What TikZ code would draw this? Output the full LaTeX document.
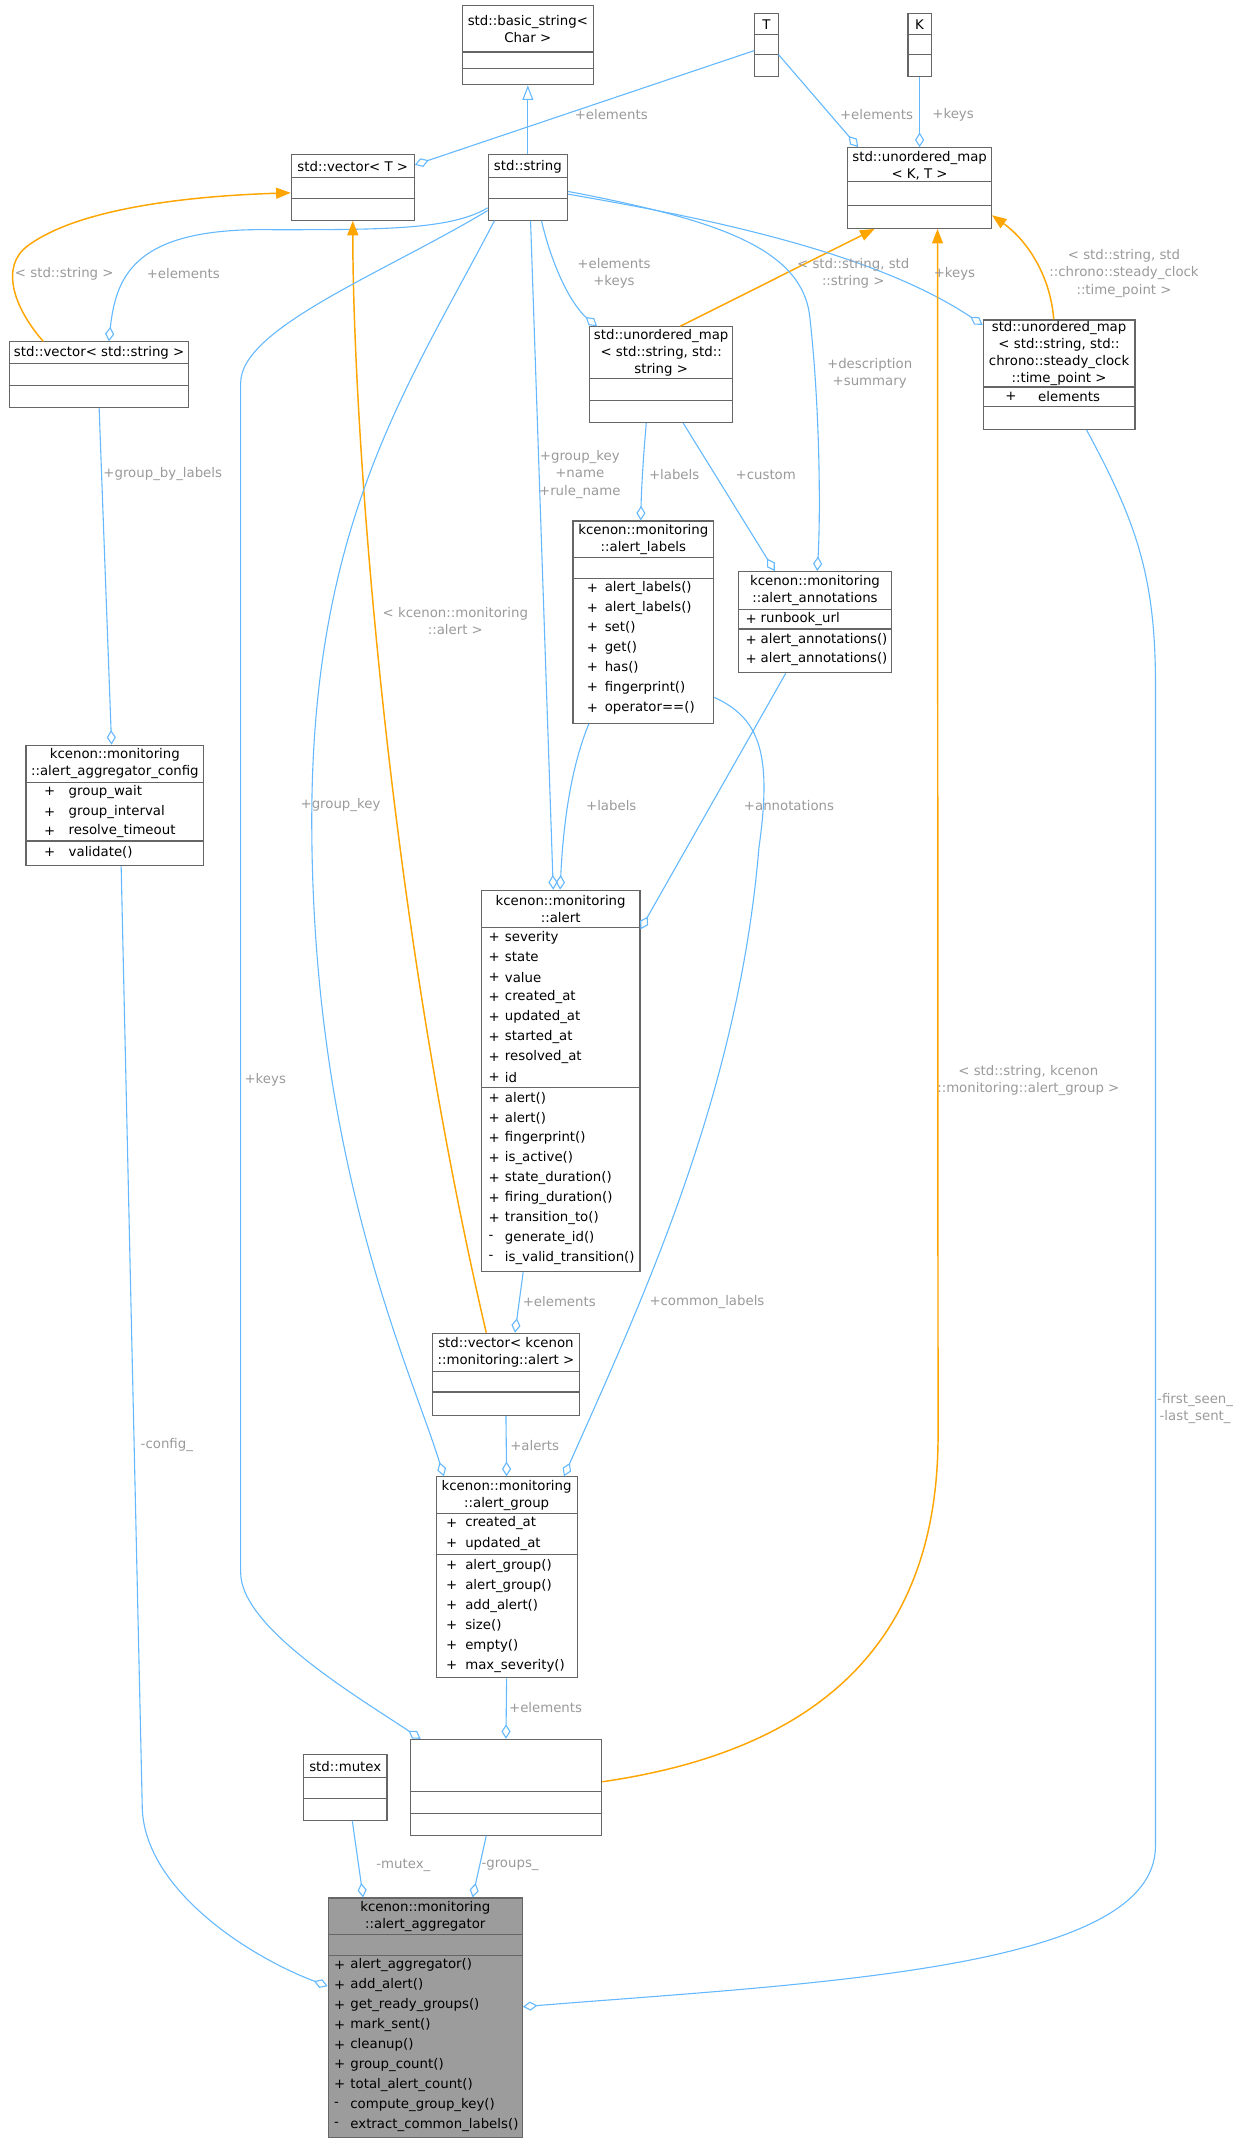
\documentclass[tikz,border=0pt]{standalone}
\usepackage{fontspec}
\setmainfont{DejaVu Sans}
\usetikzlibrary{arrows.meta,fit,calc}
\definecolor{eb}{HTML}{63B8FF}
\definecolor{eo}{HTML}{FFA500}
\definecolor{bd}{HTML}{666666}
\definecolor{lg}{HTML}{9A9A9A}
\newcommand\Bx[6][white]{\node[cbox,fill=#1,fit={(#3,#4)(#5,#6)}] (#2) {};}
\newcommand\Sp[3]{\draw[bd,line width=0.6pt] (#1,#3)--(#2,#3);}
\newcommand\Tl[3]{\node[ttl] at (#1,#2) {#3};}
\newcommand\Mb[5]{\node[mem] at (#1,#3) {#4};\node[mem] at (#2,#3) {#5};}
\newcommand\Lb[3]{\node[lbl] at (#1,#2) {#3};}
\begin{document}
\begin{tikzpicture}[x=0.75pt,y=-0.75pt,
  fnt/.style={font=\fontsize{7.3}{9.4}\selectfont},
  cbox/.style={draw=bd,line width=0.6pt,inner sep=0pt},
  ttl/.style={fnt,align=center,inner sep=0pt},
  mem/.style={fnt,anchor=west,inner sep=0pt},
  lbl/.style={fnt,text=lg,align=center,inner sep=0pt},
  ag/.style={eb,line width=0.6pt,-{Diamond[open,length=8pt,width=5pt]}},
  ih/.style={eb,line width=0.6pt,-{Triangle[open,length=8pt,width=6pt]}},
  tp/.style={eo,line width=0.8pt,-{Triangle[length=8pt,width=6pt]}}]
\useasboundingbox (0,0) rectangle (905,1565);
% boxes
\Bx{bstr}{338}{4}{434}{62}\Sp{338}{434}{38}\Sp{338}{434}{50}\Tl{386}{21}{std::basic\_string<\\Char >}
\Bx{T}{552}{10}{569}{56}\Sp{552}{569}{25}\Sp{552}{569}{40}\Tl{560.5}{18}{T}
\Bx{K}{664}{10}{681}{56}\Sp{664}{681}{25}\Sp{664}{681}{40}\Tl{672.5}{18}{K}
\Bx{vecT}{213}{113}{303}{161}\Sp{213}{303}{130}\Sp{213}{303}{145}\Tl{258}{122}{std::vector< T >}
\Bx{str}{357}{113}{415}{161}\Sp{357}{415}{130}\Sp{357}{415}{145}\Tl{386}{122}{std::string}
\Bx{umKT}{620}{108}{725}{167}\Sp{620}{725}{133}\Sp{620}{725}{150}\Tl{672.5}{121}{std::unordered\_map\\< K, T >}
\Bx{vecS}{7}{250}{138}{298}\Sp{7}{138}{266}\Sp{7}{138}{282}\Tl{72.5}{258}{std::vector< std::string >}
\Bx{umSS}{431}{239}{536}{309}\Sp{431}{536}{277}\Sp{431}{536}{293}\Tl{483.5}{258}{std::unordered\_map\\< std::string, std::\\string >}
\Bx{umC}{719}{234}{830}{314}\Sp{719}{830}{283}\Sp{719}{830}{297}\Tl{774.5}{258.5}{std::unordered\_map\\< std::string, std::\\chrono::steady\_clock\\::time\_point >}
\Mb{735}{759}{290}{+}{elements}
\Bx{lab}{419}{381}{522}{529}\Sp{419}{522}{408}\Sp{419}{522}{423}\Tl{470.5}{394.5}{kcenon::monitoring\\::alert\_labels}
\Mb{429}{442}{430}{+}{alert\_labels()}\Mb{429}{442}{445}{+}{alert\_labels()}\Mb{429}{442}{459}{+}{set()}
\Mb{429}{442}{474}{+}{get()}\Mb{429}{442}{488}{+}{has()}\Mb{429}{442}{503}{+}{fingerprint()}\Mb{429}{442}{518}{+}{operator==()}
\Bx{ann}{540}{418}{652}{492}\Sp{540}{652}{446}\Sp{540}{652}{460}\Tl{596}{432}{kcenon::monitoring\\::alert\_annotations}
\Mb{545}{556}{453}{+}{runbook\_url}\Mb{545}{556}{468}{+}{alert\_annotations()}\Mb{545}{556}{482}{+}{alert\_annotations()}
\Bx{cfg}{19}{545}{149}{633}\Sp{19}{149}{572}\Sp{19}{149}{615}\Tl{84}{558.5}{kcenon::monitoring\\::alert\_aggregator\_config}
\Mb{32}{50}{579}{+}{group\_wait}\Mb{32}{50}{594}{+}{group\_interval}\Mb{32}{50}{608}{+}{resolve\_timeout}\Mb{32}{50}{623}{+}{validate()}
\Bx{alert}{352}{651}{468}{930}\Sp{352}{468}{678}\Sp{352}{468}{795}\Tl{410}{664.5}{kcenon::monitoring\\::alert}
\foreach \t [count=\i from 0] in {severity,state,value,created\_at,updated\_at,started\_at,resolved\_at,id}
  {\Mb{357}{369}{685.5+14.6*\i}{+}{\t}}
\foreach \s/\t [count=\i from 0] in {+/alert(),+/alert(),+/fingerprint(),+/is\_active(),+/state\_duration(),+/firing\_duration(),+/transition\_to(),-/generate\_id(),-/is\_valid\_transition()}
  {\Mb{357}{369}{803+14.6*\i}{\s}{\t}}
\Bx{vecA}{316}{975}{424}{1035}\Sp{316}{424}{1003}\Sp{316}{424}{1018}\Tl{370}{989}{std::vector< kcenon\\::monitoring::alert >}
\Bx{grp}{319}{1080}{422}{1227}\Sp{319}{422}{1107}\Sp{319}{422}{1137}\Tl{370.5}{1093.5}{kcenon::monitoring\\::alert\_group}
\Mb{326}{340}{1114}{+}{created\_at}\Mb{326}{340}{1129}{+}{updated\_at}
\foreach \t [count=\i from 0] in {alert\_group(),alert\_group(),add\_alert(),size(),empty(),max\_severity()}
  {\Mb{326}{340}{1145+14.6*\i}{+}{\t}}
\Bx{mtx}{222}{1283}{283}{1331}\Sp{222}{283}{1300}\Sp{222}{283}{1315}\Tl{252.5}{1292}{std::mutex}
\node[fnt,align=left,anchor=north west,inner sep=0pt] at (305,1275) {std::unordered\_map\\< std::string, kcenon\\::monitoring::alert\_group >};
\Bx{umG}{300}{1272}{440}{1342}\Sp{300}{440}{1310}\Sp{300}{440}{1326}
\Bx[bd!65]{agg}{240}{1388}{382}{1563}\Sp{240}{382}{1415}\Sp{240}{382}{1430}\Tl{311}{1401.5}{kcenon::monitoring\\::alert\_aggregator}
\foreach \s/\t [count=\i from 0] in {+/alert\_aggregator(),+/add\_alert(),+/get\_ready\_groups(),+/mark\_sent(),+/cleanup(),+/group\_count(),+/total\_alert\_count(),-/compute\_group\_key(),-/extract\_common\_labels()}
  {\Mb{244}{256}{1437+14.6*\i}{\s}{\t}}
% edges
\draw[ih] (str.north) -- (bstr.south);
\draw[ag] ($(T.west)+(0,4)$) -- ($(vecT.north east)+(0,8)$);
\draw[ag] ($(T.east)+(0,7)$) -- ($(umKT.north west)+(8,0)$);
\draw[ag] (K.south) -- (umKT.north);
\draw[tp] ($(vecS.north west)+(25,0)$) .. controls (10,225) and (0,195) .. (20,180) .. controls (60,150) and (150,143) .. ($(vecT.west)+(0,4)$);
\draw[ag] ($(str.west)+(0,15)$) .. controls (330,168) and (280,168) .. (200,168) .. controls (100,166) and (85,200) .. ($(vecS.north west)+(73,0)$);
\draw[ag] ($(str.south)+(10,0)$) .. controls (405,200) and (420,225) .. ($(umSS.north west)+(6,0)$);
\draw[tp] ($(umSS.north)+(14,0)$) -- ($(umKT.south west)+(20,0)$);
\draw[ag] ($(str.east)+(0,5)$) .. controls (520,160) and (640,185) .. ($(umC.north west)+(0,4)$);
\draw[tp] ($(umC.north west)+(52,0)$) .. controls (768,200) and (750,175) .. ($(umKT.south east)+(0,-10)$);
\draw[ag] ($(str.east)+(0,3)$) .. controls (520,160) and (585,180) .. (592,230) .. controls (600,300) and (600,380) .. ($(ann.north west)+(58,0)$);
\draw[ag] ($(umSS.south west)+(42,0)$) .. controls (470,340) and (469,360) .. ($(lab.north west)+(50,0)$);
\draw[ag] ($(umSS.south west)+(69,0)$) -- ($(ann.north west)+(27,0)$);
\draw[ag] ($(str.south)+(2,0)$) -- ($(alert.north west)+(53,0)$);
\draw[ag] ($(lab.south west)+(12,0)$) .. controls (418,560) and (412,600) .. ($(alert.north west)+(58,0)$);
\draw[ag] ($(ann.south west)+(35,0)$) -- ($(alert.north east)+(0,29)$);
\draw[tp] ($(vecA.north west)+(40,0)$) .. controls (280,650) and (258,300) .. (vecT.south);
\draw[ag] ($(str.south west)+(5,0)$) .. controls (300,280) and (228,380) .. (228,600) .. controls (228,850) and (300,1000) .. ($(grp.north west)+(6,0)$);
\draw[ag] ($(alert.south west)+(31,0)$) -- ($(vecA.north west)+(61,0)$);
\draw[ag] ($(lab.east)+(0,55)$) .. controls (555,525) and (565,550) .. (555,620) .. controls (540,800) and (470,950) .. ($(grp.north east)+(-10,0)$);
\draw[ag] (vecA.south) -- (grp.north);
\draw[ag] ($(str.west)+(0,17)$) .. controls (280,200) and (176,240) .. (176,280) -- (176,1150) .. controls (176,1190) and (260,1240) .. ($(umG.north west)+(8,0)$);
\draw[ag] (grp.south) -- (umG.north);
\draw[tp] ($(umG.east)+(0,-4)$) .. controls (600,1280) and (686,1200) .. (686,1050) -- ($(umKT.south west)+(66,0)$);
\draw[ag] (vecS.south) -- ($(cfg.north west)+(63,0)$);
\draw[ag] ($(cfg.south west)+(70,0)$) -- (104,1320) .. controls (104,1380) and (180,1430) .. ($(agg.west)+(0,-23)$);
\draw[ag] ($(mtx.south west)+(36,0)$) -- ($(agg.north west)+(26,0)$);
\draw[ag] ($(umG.south west)+(56,0)$) -- ($(agg.north west)+(106,0)$);
\draw[ag] ($(umC.south west)+(76,0)$) .. controls (830,380) and (845,420) .. (845,500) -- (845,1350) .. controls (845,1440) and (600,1450) .. ($(agg.east)+(0,-8)$);
% labels
\Lb{447}{84}{+elements}\Lb{641}{84}{+elements}\Lb{697}{84}{+keys}
\Lb{47}{200}{< std::string >}\Lb{134}{200}{+elements}\Lb{449}{200}{+elements\\+keys}
\Lb{624}{200}{< std::string, std\\::string >}\Lb{698}{200}{+keys}
\Lb{822}{200}{< std::string, std\\::chrono::steady\_clock\\::time\_point >}
\Lb{636}{273}{+description\\+summary}\Lb{493}{347}{+labels}\Lb{560}{347}{+custom}
\Lb{424}{347}{+group\_key\\+name\\+rule\_name}\Lb{119}{347}{+group\_by\_labels}
\Lb{333}{454}{< kcenon::monitoring\\::alert >}
\Lb{447}{589}{+labels}\Lb{577}{589}{+annotations}\Lb{249}{589}{+group\_key}
\Lb{194}{790}{+keys}\Lb{752}{790}{< std::string, kcenon\\::monitoring::alert\_group >}
\Lb{409}{952}{+elements}\Lb{517}{952}{+common\_labels}\Lb{874}{1030}{-first\_seen\_\\-last\_sent\_}
\Lb{391}{1057}{+alerts}\Lb{122}{1057}{-config\_}\Lb{399}{1249}{+elements}
\Lb{295}{1364}{-mutex\_}\Lb{373}{1364}{-groups\_}
\end{tikzpicture}
\end{document}
